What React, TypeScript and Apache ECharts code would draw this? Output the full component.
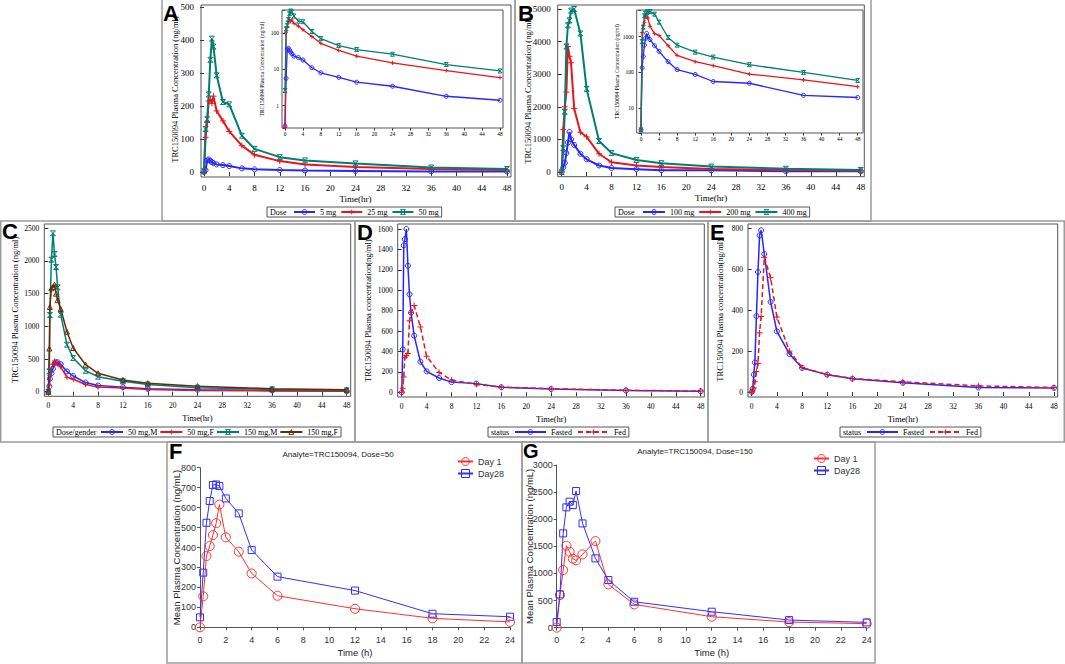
import React, { useEffect, useRef } from "react";
import * as echarts from "echarts";

const SERIF = '"Liberation Serif", "Times New Roman", serif';
const NARROW = '"Liberation Sans Narrow", "Arial Narrow", "Liberation Sans", Arial, sans-serif';
const SANS = '"Liberation Sans", Arial, Helvetica, sans-serif';

// ---------- Panel A : 5 / 25 / 50 mg ----------
const timeA = [0, 0.25, 0.5, 0.75, 1, 1.25, 1.5, 2, 3, 4, 6, 8, 12, 16, 24, 36, 48];
const concA5 = [0.27, 5.6, 35, 38, 34, 30, 27, 23, 21, 18, 11, 8, 6, 4.4, 3.4, 1.8, 1.4];
const concA25 = [0.25, 105, 150, 215, 220, 208, 230, 185, 155, 123, 80, 52, 33, 23, 15, 9.2, 5.9];
const concA50 = [2.6, 130, 160, 235, 340, 404, 380, 293, 212, 205, 110, 70, 45, 35, 26, 13.5, 9];

// ---------- Panel B : 100 / 200 / 400 mg ----------
const timeB = [0, 0.25, 0.5, 0.75, 1, 1.25, 1.5, 2, 3, 4, 6, 8, 12, 16, 24, 36, 48];
const concB100 = [2.5, 135, 280, 580, 900, 1230, 1000, 830, 560, 390, 200, 120, 88, 56, 50, 23, 20];
const concB200 = [2.5, 1300, 2000, 2450, 3850, 3550, 3350, 1950, 1220, 1080, 560, 300, 200, 155, 90, 62, 40];
const concB400 = [2.5, 730, 1850, 3850, 4500, 4650, 4950, 5000, 4250, 2550, 950, 580, 370, 270, 165, 100, 60];

// ---------- Panel C : dose / gender ----------
const timeC = [0, 0.17, 0.25, 0.5, 0.75, 1, 1.25, 1.5, 2, 3, 4, 6, 8, 12, 16, 24, 36, 48];
const conc50M = [0, 80, 200, 280, 350, 430, 450, 450, 420, 310, 240, 140, 95, 70, 45, 30, 20, 12];
const conc50F = [0, 100, 250, 350, 420, 470, 440, 420, 380, 220, 190, 110, 70, 55, 35, 20, 12, 8];
const conc150M = [0, 311, 1173, 2020, 2423, 2107, 1908, 1597, 1178, 719, 515, 320, 230, 160, 110, 60, 35, 20];
const conc150F = [0, 660, 1296, 1582, 1600, 1638, 1500, 1400, 1265, 918, 668, 413, 281, 180, 130, 85, 45, 30];

// ---------- Panels D / E : fasted vs fed ----------
const timeDE = [0, 0.17, 0.33, 0.5, 0.75, 1, 1.25, 1.5, 2, 3, 4, 6, 8, 12, 16, 24, 36, 48];
const fastedD = [0, 420, 1440, 1500, 1600, 1240, 960, 780, 555, 300, 205, 140, 100, 85, 50, 32, 18, 10];
const fedD = [0, 40, 150, 340, 360, 380, 700, 780, 850, 640, 353, 195, 120, 78, 50, 35, 20, 12];
const fastedE = [0, 16, 85, 145, 372, 588, 767, 792, 676, 441, 297, 186, 118, 85, 65, 45, 22, 20];
const fedE = [0, 5, 20, 50, 100, 140, 290, 370, 660, 560, 367, 200, 120, 85, 66, 50, 30, 22];

// ---------- Panels F / G : Day 1 vs Day 28 ----------
const timeFG = [0, 0.25, 0.5, 0.75, 1, 1.25, 1.5, 2, 3, 4, 6, 12, 18, 24];
const day1F = [0, 155, 357, 407, 462, 522, 615, 451, 379, 270, 158, 93, 45, 27];
const day28F = [50, 274, 524, 633, 713, 716, 708, 646, 571, 387, 254, 184, 68, 53];
const day1G = [0, 602, 1063, 1512, 1401, 1272, 1241, 1352, 1598, 799, 430, 203, 104, 74];
const day28G = [104, 615, 1739, 2219, 2323, 2262, 2520, 1923, 1278, 879, 479, 295, 141, 98];

const BLUE = "#2626ff";
const RED = "#e8161c";
const GREEN = "#007f70";
const BROWN = "#6a2a08";
const FRED = "#ff3030";
const FBLUE = "#3030ff";

const SYM_PLUS = "path://M5,0L5,10M0,5L10,5";
const SYM_X = "path://M0,0L10,10M10,0L0,10M0,0L10,0M0,10L10,10";

const TITLE_SAS = "TRC150094 Plasma Concentration (ng/ml)";
const TITLE_SAS2 = "TRC150094 Plasma concentration(ng/ml)";

function pow10Label(v: number) {
  const l = Math.log10(v);
  return Math.abs(l - Math.round(l)) < 1e-6 ? String(Math.round(v)) : "";
}
const plain = (v: number) => String(v);

function line(
  name: string,
  idx: number,
  times: number[],
  vals: number[],
  color: string,
  symbol: string,
  size: number,
  width: number,
  dashed = false
) {
  const isPath = symbol.startsWith("path");
  return {
    type: "line",
    name,
    xAxisIndex: idx,
    yAxisIndex: idx,
    data: times.map((t, i) => [t, vals[i]]),
    symbol,
    symbolSize: size,
    showSymbol: true,
    clip: false,
    silent: true,
    z: 3,
    lineStyle: { color, width, type: dashed ? [5, 3] : "solid" },
    itemStyle: {
      color: isPath ? color : "rgba(0,0,0,0)",
      borderColor: color,
      borderWidth: 1,
    },
  };
}

function sasX(idx: number, o: any) {
  return {
    type: "value",
    gridIndex: idx,
    min: 0,
    max: 48,
    interval: 4,
    offset: o.offset || 0,
    axisLine: { show: false },
    axisTick: { show: true, length: o.tick || 4, lineStyle: { color: "#333", width: 1 } },
    axisLabel: { fontFamily: SERIF, fontSize: o.fs, color: "#000", margin: o.margin, formatter: plain },
    splitLine: { show: false },
    name: o.name === undefined ? "Time(hr)" : o.name,
    nameLocation: "middle",
    nameGap: o.nameGap || 18,
    nameMoveOverlap: false,
    nameTextStyle: { fontFamily: SERIF, fontSize: o.nfs || 9, color: "#000" },
  };
}

function sasY(idx: number, o: any) {
  const base: any = {
    type: o.log ? "log" : "value",
    gridIndex: idx,
    min: o.min,
    max: o.max,
    offset: o.offset || 0,
    axisLine: { show: false },
    axisTick: { show: true, length: o.tick || 4, lineStyle: { color: "#333", width: 1 } },
    axisLabel: { fontFamily: SERIF, fontSize: o.fs, color: "#000", margin: o.margin, formatter: plain },
    splitLine: { show: false },
    minorTick: { show: false },
    name: o.name,
    nameLocation: "middle",
    nameGap: o.nameGap,
    nameMoveOverlap: false,
    nameTextStyle: { fontFamily: SERIF, fontSize: o.nfs || 8.5, color: "#000" },
  };
  if (o.log) {
    base.logBase = 10;
    base.axisLabel.formatter = pow10Label;
  } else {
    base.interval = o.interval;
  }
  return base;
}

function fgX(idx: number) {
  return {
    type: "value",
    gridIndex: idx,
    min: 0,
    max: 24,
    interval: 2,
    offset: 3,
    axisLine: { show: true, lineStyle: { color: "#555", width: 1 } },
    axisTick: { show: true, length: 3, lineStyle: { color: "#555" } },
    axisLabel: { fontFamily: NARROW, fontSize: 9, color: "#333", margin: 5, formatter: plain },
    splitLine: { show: false },
    name: "Time (h)",
    nameLocation: "middle",
    nameGap: 17,
    nameMoveOverlap: false,
    nameTextStyle: { fontFamily: NARROW, fontSize: 9.5, color: "#222" },
  };
}

function fgY(idx: number, max: number, interval: number, nameGap: number) {
  return {
    type: "value",
    gridIndex: idx,
    min: 0,
    max,
    interval,
    axisLine: { show: true, lineStyle: { color: "#555", width: 1 } },
    axisTick: { show: true, length: 3, lineStyle: { color: "#555" } },
    axisLabel: { fontFamily: NARROW, fontSize: 9, color: "#333", margin: 4, formatter: plain },
    splitLine: { show: false },
    name: "Mean Plasma Concentration (ng/mL)",
    nameLocation: "middle",
    nameGap,
    nameMoveOverlap: false,
    nameTextStyle: { fontFamily: NARROW, fontSize: 9.5, color: "#222" },
  };
}

function sasLegend(left: number, top: number, names: string[], padLeft: number, itemWidth: number, gap: number) {
  return {
    show: true,
    orient: "horizontal",
    left,
    top,
    data: names,
    selectedMode: false,
    itemWidth,
    itemHeight: 6,
    itemGap: gap,
    padding: [1, 3, 1, padLeft],
    borderColor: "#555",
    borderWidth: 1,
    itemStyle: { color: "rgba(0,0,0,0)", borderWidth: 1 },
    textStyle: { fontFamily: SERIF, fontSize: 8, color: "#000" },
  };
}

function fgLegend(left: number, top: number) {
  return {
    show: true,
    orient: "vertical",
    left,
    top,
    data: ["Day 1", "Day28"],
    selectedMode: false,
    itemWidth: 15,
    itemHeight: 10,
    itemGap: 3,
    padding: 0,
    itemStyle: { color: "rgba(0,0,0,0)", borderWidth: 1 },
    textStyle: { fontFamily: NARROW, fontSize: 9, color: "#333" },
  };
}

function frame(x: number, y: number, w: number, h: number, stroke = "#555", lw = 1) {
  return {
    type: "rect",
    silent: true,
    z: 1,
    shape: { x, y, width: w, height: h },
    style: { fill: "none", stroke, lineWidth: lw },
  };
}

function txt(text: string, x: number, y: number, font: any, align = "left") {
  return {
    type: "text",
    silent: true,
    z: 10,
    style: {
      text,
      x,
      y,
      fill: font.color || "#000",
      fontSize: font.size,
      fontFamily: font.family,
      fontWeight: font.weight || "normal",
      align,
      textAlign: align,
      verticalAlign: "middle",
      textVerticalAlign: "middle",
    },
  };
}

function buildOption() {
  const P = { size: 22, family: SANS, weight: "bold", color: "#000" };
  const PG = { size: 20, family: SANS, weight: "bold", color: "#000" };
  const grids = [
    { left: 204, top: 7, width: 303, height: 165 }, // A
    { left: 285, top: 10, width: 215, height: 118 }, // A inset
    { left: 561.7, top: 9, width: 299, height: 163 }, // B
    { left: 641, top: 10, width: 216.7, height: 123 }, // B inset
    { left: 48.3, top: 228.3, width: 298.4, height: 163.4 }, // C
    { left: 401.7, top: 229, width: 299, height: 163.3 }, // D
    { left: 751.7, top: 228.7, width: 302.3, height: 163.3 }, // E
    { left: 200, top: 467.7, width: 310, height: 159.6 }, // F
    { left: 556.7, top: 465, width: 310, height: 162.7 }, // G
  ].map((g) => ({ ...g, outerBoundsMode: "none", containLabel: false }));

  const xAxis = [
    sasX(0, { offset: 5, fs: 9, margin: 6, nameGap: 17, nfs: 9 }),
    sasX(1, { offset: 0, fs: 5.5, margin: 3, tick: 2.5, name: "" }),
    sasX(2, { offset: 4.7, fs: 9, margin: 6, nameGap: 17, nfs: 9 }),
    sasX(3, { offset: 0, fs: 5.5, margin: 3, tick: 2.5, name: "" }),
    sasX(4, { offset: 4.6, fs: 7.5, margin: 5, nameGap: 17.5, nfs: 8.5 }),
    sasX(5, { offset: 4.7, fs: 7.5, margin: 5, nameGap: 17.5, nfs: 8.5 }),
    sasX(6, { offset: 5, fs: 7.5, margin: 5, nameGap: 17.5, nfs: 8.5 }),
    fgX(7),
    fgX(8),
  ];

  const yAxis = [
    sasY(0, { min: 0, max: 500, interval: 100, offset: 3, fs: 9, margin: 7, name: TITLE_SAS, nameGap: 21.5 }),
    sasY(1, { log: true, min: 0.24, max: 431, offset: 3, fs: 5.5, margin: 3, tick: 2.5, name: TITLE_SAS, nameGap: 17, nfs: 5.5 }),
    sasY(2, { min: 0, max: 5000, interval: 1000, offset: 4, fs: 9, margin: 7, name: TITLE_SAS, nameGap: 25.5 }),
    sasY(3, { log: true, min: 2.04, max: 5560, offset: 4.3, fs: 5.5, margin: 3, tick: 2.5, name: TITLE_SAS, nameGap: 17, nfs: 5.5 }),
    sasY(4, { min: 0, max: 2500, interval: 500, offset: 4, fs: 7.5, margin: 5, name: TITLE_SAS, nameGap: 25 }),
    sasY(5, { min: 0, max: 1600, interval: 200, offset: 4, fs: 7.5, margin: 5, name: TITLE_SAS2, nameGap: 25.5 }),
    sasY(6, { min: 0, max: 800, interval: 200, offset: 3.7, fs: 7.5, margin: 5, name: TITLE_SAS2, nameGap: 23.7 }),
    fgY(7, 800, 100, 18.5),
    fgY(8, 3000, 500, 22),
  ];

  const series = [
    // A main
    line("5 mg", 0, timeA, concA5, BLUE, "circle", 5, 2),
    line("25 mg", 0, timeA, concA25, RED, SYM_PLUS, 6, 2),
    line("50 mg", 0, timeA, concA50, GREEN, SYM_X, 5, 2),
    // A inset
    line("5 mg", 1, timeA, concA5, BLUE, "circle", 4, 1.3),
    line("25 mg", 1, timeA, concA25, RED, SYM_PLUS, 4, 1.3),
    line("50 mg", 1, timeA, concA50, GREEN, SYM_X, 4, 1.3),
    // B main
    line("100 mg", 2, timeB, concB100, BLUE, "circle", 5, 2),
    line("200 mg", 2, timeB, concB200, RED, SYM_PLUS, 6, 2),
    line("400 mg", 2, timeB, concB400, GREEN, SYM_X, 5, 2),
    // B inset
    line("100 mg", 3, timeB, concB100, BLUE, "circle", 4, 1.3),
    line("200 mg", 3, timeB, concB200, RED, SYM_PLUS, 4, 1.3),
    line("400 mg", 3, timeB, concB400, GREEN, SYM_X, 4, 1.3),
    // C
    line("50 mg,M", 4, timeC, conc50M, BLUE, "circle", 5, 1.5),
    line("50 mg,F", 4, timeC, conc50F, RED, SYM_PLUS, 5, 1.5),
    line("150 mg,M", 4, timeC, conc150M, GREEN, SYM_X, 5, 1.5),
    line("150 mg,F", 4, timeC, conc150F, BROWN, "triangle", 5, 1.5),
    // D
    line("Fasted", 5, timeDE, fastedD, BLUE, "circle", 5, 1.5),
    line("Fed", 5, timeDE, fedD, RED, SYM_PLUS, 6, 1.5, true),
    // E
    line("Fasted", 6, timeDE, fastedE, BLUE, "circle", 5, 1.5),
    line("Fed", 6, timeDE, fedE, RED, SYM_PLUS, 6, 1.5, true),
    // F
    line("Day 1", 7, timeFG, day1F, FRED, "circle", 9, 1),
    line("Day28", 7, timeFG, day28F, FBLUE, "rect", 7, 1),
    // G
    line("Day 1", 8, timeFG, day1G, FRED, "circle", 9, 1),
    line("Day28", 8, timeFG, day28G, FBLUE, "rect", 7, 1),
  ];

  const legend = [
    sasLegend(267, 207, ["5 mg", "25 mg", "50 mg"], 26, 21, 4),
    sasLegend(615, 207, ["100 mg", "200 mg", "400 mg"], 27, 22, 4),
    sasLegend(53, 427, ["50 mg,M", "50 mg,F", "150 mg,M", "150 mg,F"], 47, 22, 2),
    sasLegend(488, 427, ["Fasted", "Fed"], 26, 31, 5),
    sasLegend(840, 427, ["Fasted", "Fed"], 26, 31, 5),
    fgLegend(457, 457),
    fgLegend(813, 454),
  ];

  const S8 = { size: 8, family: SERIF, color: "#000" };
  const T8 = { size: 8, family: NARROW, color: "#222" };
  const graphic = [
    // outer panel boxes
    frame(162, -2, 353, 223, "#9c9c9c", 1.5),
    frame(515, -2, 356, 223, "#9c9c9c", 1.5),
    frame(0.75, 221, 354.25, 221, "#9c9c9c", 1.5),
    frame(355, 221, 353, 221, "#9c9c9c", 1.5),
    frame(708, 221, 356.25, 221, "#9c9c9c", 1.5),
    frame(167, 442, 355, 221, "#9c9c9c", 1.5),
    frame(522, 442, 353, 221, "#9c9c9c", 1.5),
    // plot frames
    frame(201, 5, 310, 172),
    frame(282, 10, 221, 118),
    frame(557.7, 5, 306.6, 171.7),
    frame(636.7, 10, 226.3, 123),
    frame(44.3, 224, 306.4, 172.3),
    frame(397.7, 224, 306.6, 173),
    frame(748, 224, 309.7, 173),
    // legend titles
    txt("Dose", 270, 212, S8),
    txt("Dose", 618, 212, S8),
    txt("Dose/gender", 56, 432.5, S8),
    txt("status", 491, 432.5, S8),
    txt("status", 843, 432.5, S8),
    // F / G titles
    txt("Analyte=TRC150094, Dose=50", 338, 454, T8, "center"),
    txt("Analyte=TRC150094, Dose=150", 695, 451, T8, "center"),
    // panel letters
    txt("A", 163, 13, P),
    txt("B", 518, 13, P),
    txt("C", 2, 231.5, P),
    txt("D", 357, 232, P),
    txt("E", 710, 232, P),
    txt("F", 169, 451.5, P),
    txt("G", 523, 450.5, PG),
  ];

  return {
    animation: false,
    backgroundColor: "#ffffff",
    grid: grids,
    xAxis,
    yAxis,
    series,
    legend,
    graphic: { elements: graphic },
  };
}

export default function App() {
  const ref = useRef<HTMLDivElement>(null);
  useEffect(() => {
    if (!ref.current) return;
    const chart = echarts.init(ref.current, null, { renderer: "svg" });
    chart.setOption(buildOption() as any);
    return () => chart.dispose();
  }, []);
  return (
    <div
      ref={ref}
      style={{ position: "absolute", left: 0, top: 0, width: 1065, height: 664, background: "#fff" }}
    />
  );
}
